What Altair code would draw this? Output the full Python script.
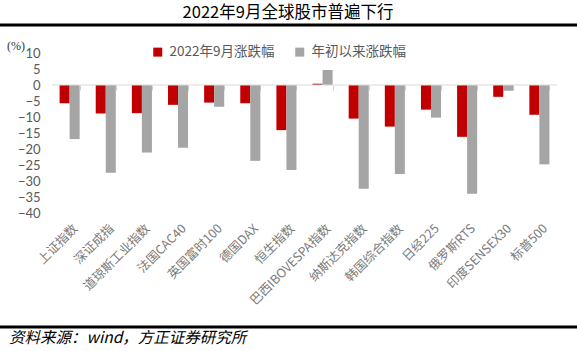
import altair as alt
import pandas as pd

categories = ["上证指数", "深证成指", "道琼斯工业指数", "法国CAC40", "英国富时100", "德国DAX",
              "恒生指数", "巴西IBOVESPA指数", "纳斯达克指数", "韩国综合指数", "日经225",
              "俄罗斯RTS", "印度SENSEX30", "标普500"]
sep_change = [-5.7, -8.9, -8.8, -6.2, -5.5, -5.7, -14.1, 0.4, -10.5, -13.0, -7.7, -16.2, -3.7, -9.3]
ytd_change = [-16.9, -27.4, -21.1, -19.6, -6.8, -23.7, -26.6, 4.7, -32.4, -27.8, -10.2, -34.0, -1.8, -24.8]
series_names = ["2022年9月涨跌幅", "年初以来涨跌幅"]
series_colors = ["#C00000", "#A5A5A5"]
y_ticks = [10, 5, 0, -5, -10, -15, -20, -25, -30, -35, -40]

rows = []
for c, a, b in zip(categories, sep_change, ytd_change):
    rows.append({"cat": c, "series": series_names[0], "value": a})
    rows.append({"cat": c, "series": series_names[1], "value": b})
df = pd.DataFrame(rows)

CJK = "Noto Sans CJK SC"

x_scale = alt.Scale(domain=categories, paddingInner=0.445, paddingOuter=0.21)
y_scale = alt.Scale(domain=[-40, 10], nice=False, zero=False)

bars = alt.Chart(df).mark_bar().encode(
    x=alt.X("cat:N", sort=categories, scale=x_scale, title=None,
            axis=alt.Axis(orient="bottom", labelAngle=-45, labelAlign="right", labelBaseline="middle",
                          domain=False, ticks=False, labelPadding=13, labelOffset=6,
                          labelFont=CJK, labelFontSize=12.5, labelColor="#7a7a7a",
                          labelLimit=200)),
    xOffset=alt.XOffset("series:N", sort=series_names, scale=alt.Scale(domain=series_names, paddingInner=0, paddingOuter=0)),
    y=alt.Y("value:Q", scale=y_scale, title=None,
            axis=alt.Axis(values=y_ticks, domain=False, ticks=False, grid=False,
                          labelFont="Lato", labelFontSize=13, labelColor="#595959",
                          labelPadding=12)),
    color=alt.Color("series:N", sort=series_names,
                    scale=alt.Scale(domain=series_names, range=series_colors),
                    legend=alt.Legend(title=None, orient="none", direction="horizontal",
                                      legendX=99, legendY=-8, symbolType="square",
                                      symbolSize=81, symbolStrokeWidth=0,
                                      labelFont=CJK, labelFontSize=13.5, labelColor="#595959",
                                      columnPadding=18, labelOffset=5, padding=0)),
)

zero_df = pd.DataFrame({"cat": categories, "z": [0] * len(categories)})
zero_axis = alt.Chart(zero_df).mark_point(opacity=0).encode(
    x=alt.X("cat:N", sort=categories, scale=x_scale, title=None,
            axis=alt.Axis(orient="bottom", offset=-128, tickBand="extent", labels=False, domain=False,
                          ticks=True, tickColor="#D0D0D0", tickSize=5, tickWidth=1, grid=False)),
    y=alt.Y("z:Q", scale=y_scale, axis=None),
)

zero_line = alt.Chart(pd.DataFrame({"z": [0]})).mark_rule(color="#D9D9D9", strokeWidth=1).encode(
    y=alt.Y("z:Q", scale=y_scale, axis=None)
)

title_text = alt.Chart(pd.DataFrame({"t": ["2022年9月全球股市普遍下行"]})).mark_text(
    font=CJK, fontSize=16.5, color="#000000", align="center", baseline="middle"
).encode(text="t:N", x=alt.value(236), y=alt.value(-40))

source_text = alt.Chart(pd.DataFrame({"t": ["资料来源：wind，方正证券研究所"]})).mark_text(
    font=CJK, fontSize=15.5, fontStyle="italic", color="#000000", align="left", baseline="middle"
).encode(text="t:N", x=alt.value(-43), y=alt.value(285))

unit_text = alt.Chart(pd.DataFrame({"t": ["(%)"]})).mark_text(
    font="Liberation Serif", fontSize=12, color="#333333", align="left", baseline="middle"
).encode(text="t:N", x=alt.value(-45), y=alt.value(-7))

top_line = alt.Chart(pd.DataFrame({"a": [0]})).mark_rule(color="#000000", strokeWidth=3).encode(
    x=alt.value(-52), x2=alt.value(525), y=alt.value(-28)
)
bottom_line = alt.Chart(pd.DataFrame({"a": [0]})).mark_rule(color="#000000", strokeWidth=3).encode(
    x=alt.value(-52), x2=alt.value(525), y=alt.value(274)
)

chart = alt.layer(
    bars, zero_line, zero_axis, title_text, source_text, unit_text, top_line, bottom_line
).resolve_axis(x="independent", y="independent").properties(
    width=505, height=160,
    autosize=alt.AutoSizeParams(type="none"),
    padding={"left": 52, "top": 53, "right": 20, "bottom": 138},
    background="#FFFFFF",
).configure_view(stroke=None)

chart.save("out.html", embed_options={"renderer": "svg", "actions": False})
